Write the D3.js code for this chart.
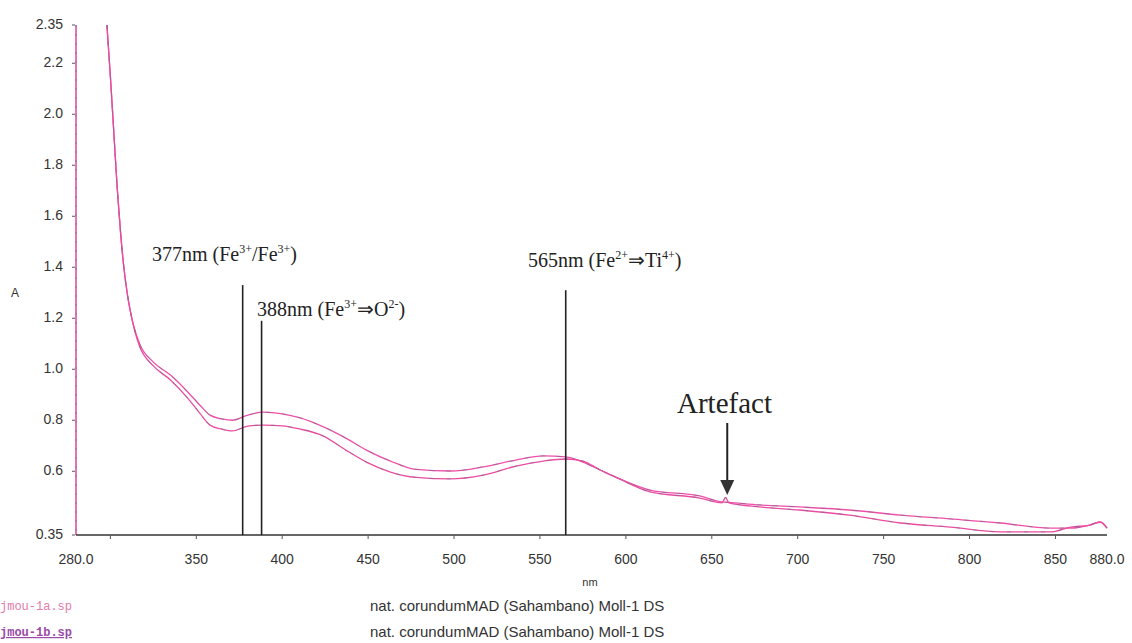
<!DOCTYPE html>
<html>
<head>
<meta charset="utf-8">
<script src="https://cdn.jsdelivr.net/npm/d3@7"></script>
<style>
  html, body { margin: 0; padding: 0; background: #fff; }
  svg { display: block; }
</style>
</head>
<body>
<svg id="chart" width="1132" height="643"></svg>
<script>
// Wavelength grid (nm) shared by both spectra
const wavelengths = [298, 300, 302, 304, 306, 308, 310, 312, 314, 317, 325, 335, 345, 352, 358, 365, 371, 380, 389,
  400, 410, 424, 437, 449, 463, 478, 498, 517, 536, 552, 565, 575, 585, 595, 614, 643, 656, 658, 660,
  678, 701, 730, 760, 789, 818, 847, 859, 870, 876, 880];

// Absorbance of the two spectra
const absorbance1a = [2.35, 2.15, 1.93, 1.71, 1.53, 1.39, 1.29, 1.215, 1.16, 1.10, 1.028, 0.977, 0.911, 0.86, 0.82, 0.805, 0.80, 0.82, 0.832,
  0.825, 0.81, 0.774, 0.73, 0.683, 0.64, 0.607, 0.601, 0.617, 0.644, 0.66, 0.656, 0.636, 0.605, 0.574, 0.526, 0.503, 0.48, 0.479, 0.478,
  0.468, 0.46, 0.448, 0.428, 0.413, 0.397, 0.377, 0.377, 0.389, 0.401, 0.377];
const absorbance1b = [2.35, 2.15, 1.93, 1.71, 1.53, 1.39, 1.29, 1.215, 1.155, 1.09, 1.013, 0.958, 0.887, 0.828, 0.781, 0.765, 0.758, 0.777, 0.781,
  0.778, 0.766, 0.738, 0.683, 0.636, 0.597, 0.576, 0.57, 0.585, 0.62, 0.64, 0.648, 0.64, 0.605, 0.574, 0.519, 0.495, 0.476, 0.497, 0.476,
  0.46, 0.448, 0.428, 0.397, 0.381, 0.362, 0.362, 0.381, 0.389, 0.401, 0.377];

const seriesNames = ["jmou-1a.sp", "jmou-1b.sp"];
const sampleNames = ["nat. corundumMAD (Sahambano) Moll-1 DS", "nat. corundumMAD (Sahambano) Moll-1 DS"];

// Axis ticks
const xTickValues = [300, 350, 400, 450, 500, 550, 600, 650, 700, 750, 800, 850];
const xLabelValues = [280, 350, 400, 450, 500, 550, 600, 650, 700, 750, 800, 850, 880];
const yTickValues = [0.35, 0.6, 0.8, 1.0, 1.2, 1.4, 1.6, 1.8, 2.0, 2.2, 2.35];

// Band assignments marked with vertical lines
const bandPositions = [377, 388, 565];
const bandTops = [1.33, 1.19, 1.31];
const artefactAt = 659;

const svg = d3.select("#chart");
const x = d3.scaleLinear().domain([280, 880]).range([76, 1107]);
const y = d3.scaleLinear().domain([0.35, 2.35]).range([535, 25]);

const tickFont = "'Liberation Sans', Arial, sans-serif";
const serif = "'Liberation Serif', 'Times New Roman', serif";

// Y axis
svg.append("line").attr("x1", x(280)).attr("x2", x(280)).attr("y1", y(2.35)).attr("y2", y(0.35))
  .attr("stroke", "#d8489a").attr("stroke-width", 1.5);
svg.append("line").attr("x1", x(280)).attr("x2", x(280)).attr("y1", y(2.35)).attr("y2", y(0.35))
  .attr("stroke", "#5a6aa8").attr("stroke-width", 1).attr("stroke-dasharray", "2 7").attr("opacity", 0.6);
const yg = svg.append("g");
yg.selectAll("line").data(yTickValues).join("line")
  .attr("x1", x(280) - 4).attr("x2", x(280) - 1)
  .attr("y1", d => y(d)).attr("y2", d => y(d))
  .attr("stroke", "#555").attr("stroke-width", 1);
yg.selectAll("text").data(yTickValues).join("text")
  .attr("x", 63).attr("y", d => y(d) + 4)
  .attr("text-anchor", "end")
  .attr("font-family", tickFont).attr("font-size", 14)
  .attr("fill", "#333")
  .text(d => (d === 0.35 || d === 2.35) ? d.toFixed(2) : d.toFixed(1));
svg.append("text").attr("x", 15).attr("y", 297).attr("text-anchor", "middle")
  .attr("font-family", tickFont).attr("font-size", 12).attr("fill", "#333").text("A");

// X axis
svg.append("line").attr("x1", x(280)).attr("x2", x(880)).attr("y1", y(0.35)).attr("y2", y(0.35))
  .attr("stroke", "#333").attr("stroke-width", 1.5);
const xg = svg.append("g");
xg.selectAll("line").data(xTickValues).join("line")
  .attr("x1", d => x(d)).attr("x2", d => x(d))
  .attr("y1", y(0.35)).attr("y2", y(0.35) + 4)
  .attr("stroke", "#555").attr("stroke-width", 1);
xg.selectAll("text").data(xLabelValues).join("text")
  .attr("x", d => x(d)).attr("y", 564)
  .attr("text-anchor", "middle")
  .attr("font-family", tickFont).attr("font-size", 14)
  .attr("fill", "#333")
  .text(d => (d === 280 || d === 880) ? d.toFixed(1) : d);
svg.append("text").attr("x", 590).attr("y", 586).attr("text-anchor", "middle")
  .attr("font-family", tickFont).attr("font-size", 11).attr("fill", "#333").text("nm");

// Spectra
const line = d3.line().x(d => x(d[0])).y(d => y(d[1])).curve(d3.curveMonotoneX);
const spectra = [
  { values: d3.zip(wavelengths, absorbance1a), color: "#ee4fa8" },
  { values: d3.zip(wavelengths, absorbance1b), color: "#e94ca0" }
];
spectra.forEach((s, i) => {
  svg.append("path").datum(s.values).attr("d", line)
    .attr("fill", "none").attr("stroke", s.color).attr("stroke-width", 1.3);
  svg.append("path").datum(s.values).attr("d", line)
    .attr("fill", "none").attr("stroke", "#6c7088").attr("stroke-width", 1)
    .attr("stroke-dasharray", i === 0 ? "5 11" : "4 13").attr("opacity", 0.55);
});

// Band marker lines
svg.append("g").selectAll("line").data(bandPositions).join("line")
  .attr("x1", d => x(d)).attr("x2", d => x(d))
  .attr("y1", (d, i) => y(bandTops[i])).attr("y2", y(0.35))
  .attr("stroke", "#222").attr("stroke-width", 1.6);

// Band labels with superscript charges
function bandLabel(px, py, parts) {
  const t = svg.append("text").attr("x", px).attr("y", py)
    .attr("font-family", serif).attr("font-size", 20).attr("fill", "#222");
  let raised = false;
  parts.forEach(p => {
    const sup = p.startsWith("^");
    const txt = sup ? p.slice(1) : p;
    const ts = t.append("tspan").text(txt);
    if (sup && !raised) { ts.attr("dy", -8).attr("font-size", 12); raised = true; }
    else if (sup) { ts.attr("font-size", 12); }
    else if (raised) { ts.attr("dy", 8); raised = false; }
  });
}
bandLabel(152, 261, ["377nm (Fe", "^3+", "/Fe", "^3+", ")"]);
bandLabel(257, 316, ["388nm (Fe", "^3+", "\u21D2O", "^2-", ")"]);
bandLabel(528, 267, ["565nm (Fe", "^2+", "\u21D2Ti", "^4+", ")"]);

// Artefact note with arrow
svg.append("text").attr("x", 677).attr("y", 413)
  .attr("font-family", serif).attr("font-size", 29).attr("fill", "#222").text("Artefact");
const ax = x(artefactAt);
svg.append("line").attr("x1", ax).attr("x2", ax).attr("y1", 423).attr("y2", 482)
  .attr("stroke", "#222").attr("stroke-width", 2);
svg.append("path")
  .attr("d", `M${ax - 7},480 L${ax + 7},480 L${ax},495 Z`)
  .attr("fill", "#333");

// Legend rows
const legend = svg.append("g");
legend.append("text").attr("x", 0).attr("y", 610)
  .attr("font-family", "'Liberation Mono', monospace").attr("font-size", 12)
  .attr("fill", "#e27aac").text(seriesNames[0]);
legend.append("text").attr("x", 0).attr("y", 636)
  .attr("font-family", "'Liberation Mono', monospace").attr("font-size", 12).attr("font-weight", "bold")
  .attr("fill", "#9a4aa8").attr("text-decoration", "underline").text(seriesNames[1]);
sampleNames.forEach((n, i) => {
  legend.append("text").attr("x", 370).attr("y", 611 + i * 26)
    .attr("font-family", tickFont).attr("font-size", 15)
    .attr("fill", "#333").text(n);
});
</script>
</body>
</html>
